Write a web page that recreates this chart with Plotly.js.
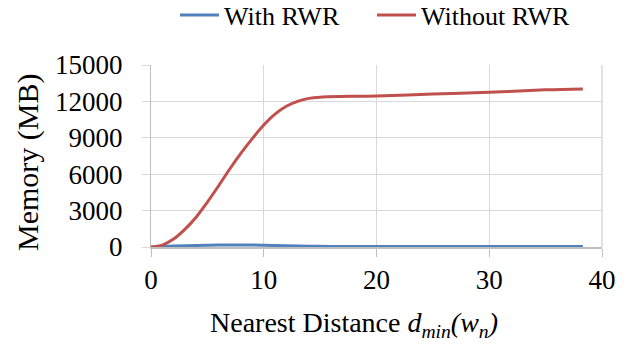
<!DOCTYPE html>
<html>
<head>
<meta charset="utf-8">
<script src="https://cdn.plot.ly/plotly-3.0.1.min.js"></script>
<style>html,body{margin:0;padding:0;background:#fff;}#chart{width:630px;height:345px;}</style>
</head>
<body>
<div id="chart"></div>
<script>
const distWith = [0, 2, 4, 6, 8, 10, 12, 14, 16, 20, 25, 30, 35, 38.3];
const memWith = [0, 80, 130, 160, 170, 150, 100, 60, 50, 50, 50, 50, 50, 50];
const distWithout = [0, 1, 2, 3, 4, 5, 6, 7, 8, 9, 10, 11, 12, 13, 14, 15, 20, 25, 30, 35, 38.3];
const memWithout = [0, 150, 650, 1450, 2450, 3700, 5050, 6450, 7750, 8950, 10050, 10950, 11600, 12000, 12250, 12350, 12450, 12600, 12750, 12950, 13030];
const xTicks = [0, 10, 20, 30, 40];
const yTicks = [0, 3000, 6000, 9000, 12000, 15000];
const seriesNames = ['With RWR', 'Without RWR'];
const xTitle = 'Nearest Distance <i>d</i><sub><i>min</i></sub><i>(w</i><sub><i>n</i></sub><i>)</i>';
const yTitle = 'Memory (MB)';

const font = 'Liberation Serif, Times New Roman, serif';
const traces = [
  {x: distWith, y: memWith, name: seriesNames[0], mode: 'lines', legend: 'legend',
   line: {color: '#4f81bd', width: 3, shape: 'spline', smoothing: 1}},
  {x: distWithout, y: memWithout, name: seriesNames[1], mode: 'lines', legend: 'legend2',
   line: {color: '#c0504d', width: 3, shape: 'spline', smoothing: 1}}
];
const legendBase = {orientation: 'h', xref: 'container', xanchor: 'left',
  yref: 'container', y: 1 - 15 / 345, yanchor: 'middle', itemwidth: 39,
  font: {family: font, size: 26, color: '#000'}, bgcolor: 'rgba(0,0,0,0)'};
const layout = {
  width: 630, height: 345,
  margin: {l: 151, r: 28, t: 65, b: 98, autoexpand: false},
  paper_bgcolor: '#fff', plot_bgcolor: '#fff',
  font: {family: font, size: 27, color: '#000'},
  showlegend: true,
  legend: Object.assign({}, legendBase, {x: 175 / 630}),
  legend2: Object.assign({}, legendBase, {x: 372 / 630}),
  xaxis: {range: [0, 40], tickvals: xTicks, ticktext: xTicks.map(String),
          showgrid: true, gridcolor: '#d9d9d9', gridwidth: 1,
          showline: true, linecolor: '#bfbfbf', linewidth: 1.5,
          ticks: 'outside', ticklen: 8, tickcolor: '#bfbfbf', zeroline: false,
          tickfont: {family: font, size: 27}},
  yaxis: {range: [0, 15000], tickvals: yTicks, ticktext: yTicks.map(v => v + '\u2002'),
          showgrid: true, gridcolor: '#d9d9d9', gridwidth: 1,
          showline: true, linecolor: '#bfbfbf', linewidth: 1.5,
          ticks: 'outside', ticklen: 8, tickcolor: '#d9d9d9', zeroline: false,
          tickfont: {family: font, size: 27}},
  annotations: [
    {text: xTitle, xref: 'paper', yref: 'paper', x: (354 - 151) / 451, y: 0,
     xanchor: 'center', yanchor: 'top', yshift: -58, showarrow: false,
     font: {family: font, size: 28, color: '#000'}},
    {text: yTitle, xref: 'paper', yref: 'paper', x: 0, y: 0.5,
     xanchor: 'center', yanchor: 'middle', xshift: -123, yshift: -7, textangle: -90,
     showarrow: false, font: {family: font, size: 30, color: '#000'}}
  ],
  shapes: [
    {type: 'line', xref: 'paper', yref: 'paper', x0: 1, x1: 1, y0: 0, y1: 1,
     line: {color: '#d9d9d9', width: 1.5}}
  ]
};
Plotly.newPlot('chart', traces, layout, {displayModeBar: false, staticPlot: true});
</script>
</body>
</html>
